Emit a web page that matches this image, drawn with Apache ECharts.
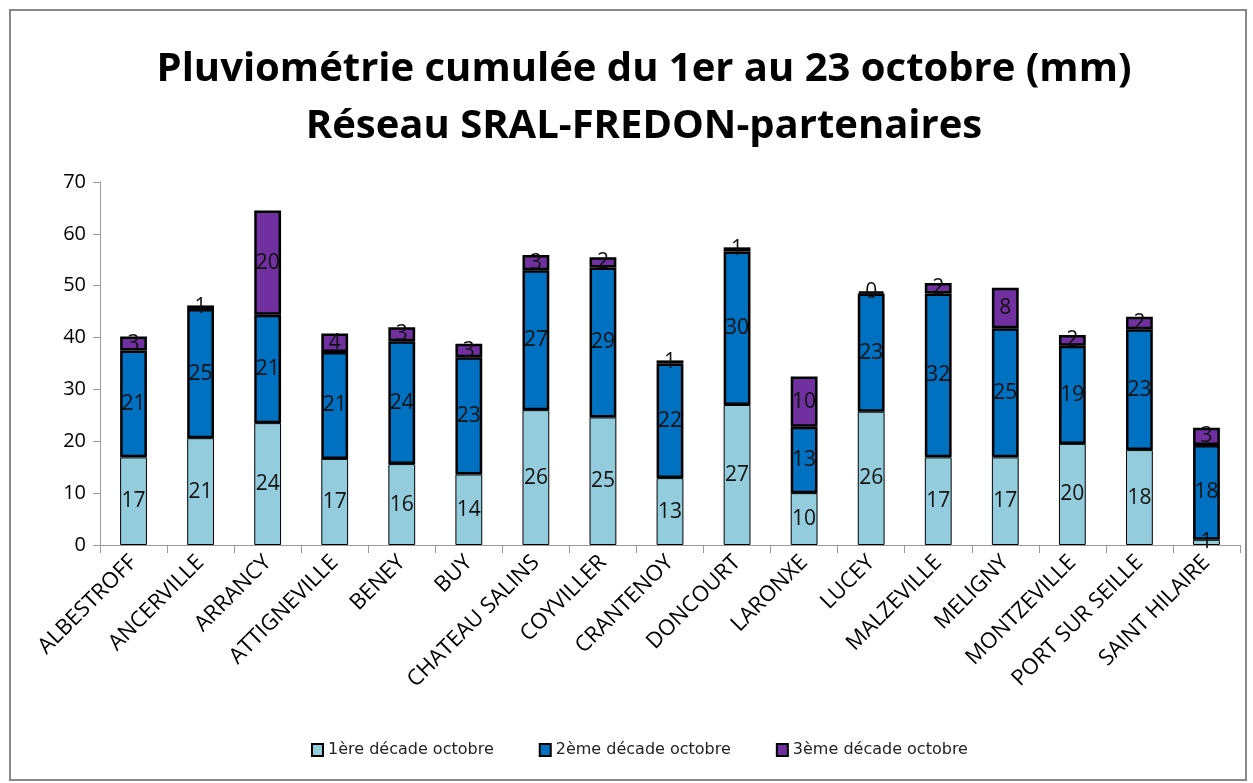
<!DOCTYPE html>
<html>
<head>
<meta charset="utf-8">
<script src="https://cdn.jsdelivr.net/npm/echarts@6/dist/echarts.min.js"></script>
<style>
  html, body { margin: 0; padding: 0; background: #fff; }
  #main { width: 1253px; height: 783px; }
</style>
</head>
<body>
<div id="main"></div>
<script>
var stations = ['ALBESTROFF', 'ANCERVILLE', 'ARRANCY', 'ATTIGNEVILLE', 'BENEY', 'BUY',
    'CHATEAU SALINS', 'COYVILLER', 'CRANTENOY', 'DONCOURT', 'LARONXE', 'LUCEY',
    'MALZEVILLE', 'MELIGNY', 'MONTZEVILLE', 'PORT SUR SEILLE', 'SAINT HILAIRE'];
var decade1 = [16.9, 20.6, 23.5, 16.6, 15.6, 13.6, 26.0, 24.6, 12.9, 27.0, 10.0, 25.7, 16.9, 16.9, 19.5, 18.3, 1.0];
var decade2 = [20.6, 24.9, 20.9, 20.6, 23.7, 22.6, 27.0, 28.9, 22.1, 29.6, 12.8, 22.8, 31.6, 24.9, 18.9, 23.3, 18.3];
var decade3 = [2.7, 0.7, 20.1, 3.6, 2.7, 2.6, 2.9, 2.0, 0.6, 0.8, 9.7, 0.4, 2.0, 7.8, 2.1, 2.4, 3.3];
var seriesNames = ['1ère décade octobre', '2ème décade octobre', '3ème décade octobre'];

var chart = echarts.init(document.getElementById('main'));

function makeSeries(name, data, color, borderWidth) {
    return {
        name: name,
        type: 'bar',
        stack: 'total',
        barWidth: '40%',
        data: data,
        itemStyle: { color: color, borderColor: '#000', borderWidth: borderWidth },
        label: {
            show: true,
            position: 'inside',
            color: '#111',
            fontSize: 21,
            fontFamily: 'Open Sans',
            formatter: function (p) { return Math.round(p.value); }
        }
    };
}

var option = {
    backgroundColor: '#fff',
    animation: false,
    title: {
        text: 'Pluviométrie cumulée du 1er au 23 octobre (mm)\nRéseau SRAL-FREDON-partenaires',
        left: 639,
        textAlign: 'center',
        top: 36,
        textStyle: { fontFamily: 'Open Sans', fontWeight: 'bold', fontSize: 40, color: '#000', lineHeight: 57 }
    },
    legend: {
        bottom: 20,
        left: 306,
        itemWidth: 11,
        itemHeight: 12,
        itemGap: 45,
        icon: 'rect',
        textStyle: { fontFamily: 'DejaVu Sans', fontSize: 16, color: '#222' },
        data: seriesNames
    },
    grid: { left: 100, right: 13, top: 182, bottom: 238 },
    xAxis: {
        type: 'category',
        data: stations,
        axisLine: { lineStyle: { color: '#999' } },
        axisTick: { show: true, length: 8, lineStyle: { color: '#999' } },
        axisLabel: { rotate: 45, interval: 0, fontFamily: 'Open Sans', fontSize: 22, color: '#000', margin: 14 }
    },
    yAxis: {
        type: 'value',
        min: 0, max: 70, interval: 10,
        axisLine: { show: true, lineStyle: { color: '#999' } },
        axisTick: { show: true, length: 7, lineStyle: { color: '#999' } },
        splitLine: { show: false },
        axisLabel: { fontFamily: 'Open Sans', fontSize: 20, color: '#000', margin: 14 }
    },
    graphic: [{
        type: 'rect',
        shape: { x: 10, y: 10, width: 1236, height: 770 },
        style: { fill: 'none', stroke: '#888', lineWidth: 2 },
        silent: true
    }],
    series: [
        makeSeries(seriesNames[0], decade1, '#93CDDD', 1),
        makeSeries(seriesNames[1], decade2, '#0070C0', 2.5),
        makeSeries(seriesNames[2], decade3, '#7030A0', 2.5)
    ]
};
chart.setOption(option);
</script>
</body>
</html>
